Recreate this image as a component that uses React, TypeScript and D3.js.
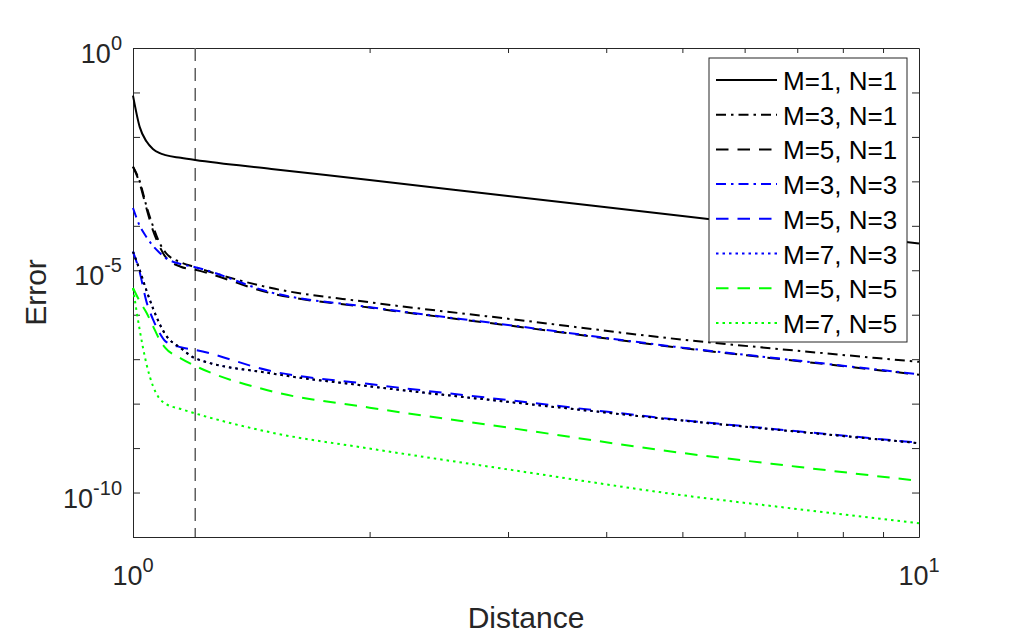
import { useEffect, useRef } from 'react'
import * as d3 from 'd3'

// sample distances shared by every curve
const distance = [1, 1.02, 1.04, 1.06, 1.08, 1.1, 1.15, 1.2, 1.5, 2, 3, 5, 7, 10]

// log10 of the error for each (M, N) pair, one entry per distance
const m1n1 = [-1.07, -1.78, -2.1, -2.27, -2.36, -2.41, -2.47, -2.52, -2.72, -2.97, -3.33, -3.78, -4.08, -4.4]
const m3n1 = [-2.67, -3.0, -3.55, -4.0, -4.37, -4.6, -4.82, -4.93, -5.4, -5.72, -6.09, -6.56, -6.81, -7.06]
const m5n1 = [-2.67, -3.05, -3.6, -4.1, -4.45, -4.7, -4.92, -4.99, -5.52, -5.84, -6.24, -6.75, -7.04, -7.35]
const m3n3 = [-3.6, -4.0, -4.25, -4.45, -4.6, -4.72, -4.86, -4.93, -5.5, -5.83, -6.23, -6.74, -7.03, -7.34]
const m5n3 = [-4.58, -5.05, -5.7, -6.1, -6.4, -6.6, -6.73, -6.79, -7.27, -7.56, -7.92, -8.37, -8.62, -8.88]
const m7n3 = [-4.58, -5.0, -5.45, -5.85, -6.19, -6.45, -6.75, -6.98, -7.32, -7.61, -7.96, -8.38, -8.63, -8.89]
const m5n5 = [-5.4, -5.7, -5.95, -6.25, -6.55, -6.75, -6.98, -7.15, -7.72, -8.09, -8.54, -9.11, -9.42, -9.74]
const m7n5 = [-5.4, -6.35, -7.1, -7.6, -7.88, -8.0, -8.12, -8.22, -8.65, -9.01, -9.48, -10.06, -10.37, -10.69]
// extra curve without a legend entry, drawn over M=7, N=3
const m7n1 = [-4.58, -5.0, -5.45, -5.85, -6.19, -6.45, -6.75, -6.98, -7.32, -7.61, -7.96, -8.38, -8.63, -8.89]

const labels = ['M=1, N=1', 'M=3, N=1', 'M=5, N=1', 'M=3, N=3', 'M=5, N=3', 'M=7, N=3', 'M=5, N=5', 'M=7, N=5']
const colors = ['#000000', '#000000', '#000000', '#0000ff', '#0000ff', '#0000ff', '#00ff00', '#00ff00']
const styles = ['solid', 'dashdot', 'dashed', 'dashdot', 'dashed', 'dotted', 'dashed', 'dotted']

const refDistance = 1.2
const yLabelExps = [0, -5, -10]
const xLabelExps = [0, 1]
const yDomain = [1e-11, 1]
const xDomain = [1, 10]

const dashes: Record<string, string | null> = {
  solid: null,
  dashed: '12.5 9',
  dotted: '2.5 4',
  dashdot: '10 5 2.5 5',
}

const FONT = '"Liberation Sans", Arial, Helvetica, sans-serif'
const INK = '#262626'

function App() {
  const ref = useRef<SVGSVGElement>(null)

  useEffect(() => {
    const node = ref.current
    if (!node) return
    const svg = d3.select(node)
    svg.selectAll('*').remove()

    const left = 133
    const right = 919
    const top = 48
    const bottom = 537

    const x = d3.scaleLog().domain(xDomain).range([left, right])
    const y = d3.scaleLog().domain(yDomain).range([bottom, top])

    const decades = d3.range(-11, 1).map((e) => Math.pow(10, e))
    const minor = d3.range(2, 10)

    const styleAxis = (g: any) => {
      g.select('.domain').attr('stroke', INK).attr('stroke-width', 1)
      g.selectAll('.tick line').attr('stroke', INK).attr('stroke-width', 1)
      g.selectAll('.tick text').remove()
    }

    svg.append('rect').attr('x', 0).attr('y', 0).attr('width', 1017).attr('height', 640).attr('fill', '#fff')

    svg
      .append('g')
      .attr('transform', `translate(${left},0)`)
      .call(d3.axisLeft(y).tickValues(decades).tickSizeInner(-7).tickSizeOuter(0))
      .call(styleAxis)
    svg
      .append('g')
      .attr('transform', `translate(${right},0)`)
      .call(d3.axisRight(y).tickValues(decades).tickSizeInner(-7).tickSizeOuter(0))
      .call(styleAxis)
    svg
      .append('g')
      .attr('transform', `translate(0,${bottom})`)
      .call(d3.axisBottom(x).tickValues(minor).tickSizeInner(-5).tickSizeOuter(0))
      .call(styleAxis)
    svg
      .append('g')
      .attr('transform', `translate(0,${top})`)
      .call(d3.axisTop(x).tickValues(minor).tickSizeInner(-5).tickSizeOuter(0))
      .call(styleAxis)

    // tick labels as 10 with a superscript exponent
    const yl = svg
      .selectAll('text.ylab')
      .data(yLabelExps)
      .enter()
      .append('text')
      .attr('class', 'ylab')
      .attr('x', left - 11)
      .attr('y', (d) => y(Math.pow(10, d)) + 15)
      .attr('text-anchor', 'end')
      .attr('font-family', FONT)
      .attr('font-size', 27)
      .attr('fill', INK)
      .text('10')
    yl.append('tspan').attr('dy', -13).attr('font-size', 20).text((d) => String(d))

    const xl = svg
      .selectAll('text.xlab')
      .data(xLabelExps)
      .enter()
      .append('text')
      .attr('class', 'xlab')
      .attr('x', (d) => x(Math.pow(10, d)))
      .attr('y', 585)
      .attr('text-anchor', 'middle')
      .attr('font-family', FONT)
      .attr('font-size', 27)
      .attr('fill', INK)
      .text('10')
    xl.append('tspan').attr('dy', -13).attr('font-size', 20).text((d) => String(d))

    svg
      .append('text')
      .attr('x', (left + right) / 2)
      .attr('y', 628)
      .attr('text-anchor', 'middle')
      .attr('font-family', FONT)
      .attr('font-size', 30)
      .attr('fill', INK)
      .text('Distance')

    svg
      .append('text')
      .attr('transform', `translate(46,${(top + bottom) / 2}) rotate(-90)`)
      .attr('text-anchor', 'middle')
      .attr('font-family', FONT)
      .attr('font-size', 30)
      .attr('fill', INK)
      .text('Error')

    // reference distance
    svg
      .append('line')
      .attr('x1', x(refDistance))
      .attr('x2', x(refDistance))
      .attr('y1', top)
      .attr('y2', bottom)
      .attr('stroke', '#5f5f5f')
      .attr('stroke-width', 1.5)
      .attr('stroke-dasharray', '13 7')

    const line = d3
      .line<[number, number]>()
      .x((d) => x(d[0]))
      .y((d) => y(Math.pow(10, d[1])))
      .curve(d3.curveMonotoneX)

    const series = [m1n1, m3n1, m5n1, m3n3, m5n3, m7n3, m5n5, m7n5]
    const plotArea = svg.append('g')
    series.forEach((vals, i) => {
      plotArea
        .append('path')
        .datum(distance.map((d, j) => [d, vals[j]] as [number, number]))
        .attr('d', line)
        .attr('fill', 'none')
        .attr('stroke', colors[i])
        .attr('stroke-width', 2)
        .attr('stroke-dasharray', dashes[styles[i]])
    })
    plotArea
      .append('path')
      .datum(distance.map((d, j) => [d, m7n1[j]] as [number, number]))
      .attr('d', line)
      .attr('fill', 'none')
      .attr('stroke', '#000000')
      .attr('stroke-width', 2)
      .attr('stroke-dasharray', dashes.dotted)

    // legend
    const lg = svg.append('g').attr('transform', 'translate(709,58)')
    lg.append('rect')
      .attr('width', 198)
      .attr('height', 284)
      .attr('fill', '#fff')
      .attr('stroke', INK)
      .attr('stroke-width', 1)
    const rows = lg
      .selectAll('g.row')
      .data(labels)
      .enter()
      .append('g')
      .attr('class', 'row')
      .attr('transform', (_, i) => `translate(0,${32 + i * 34.7})`)
    rows
      .append('line')
      .attr('x1', 7)
      .attr('x2', 68)
      .attr('y1', -10)
      .attr('y2', -10)
      .attr('stroke', (_, i) => colors[i])
      .attr('stroke-width', 2)
      .attr('stroke-dasharray', (_, i) => dashes[styles[i]])
    rows
      .append('text')
      .attr('x', 74)
      .attr('y', 0)
      .attr('font-family', FONT)
      .attr('font-size', 26)
      .attr('fill', '#000')
      .text((d) => d)
  }, [])

  return (
    <>
      <style>{'body{margin:0}'}</style>
      <svg ref={ref} width={1017} height={640} style={{ display: 'block' }} />
    </>
  )
}

export default App
